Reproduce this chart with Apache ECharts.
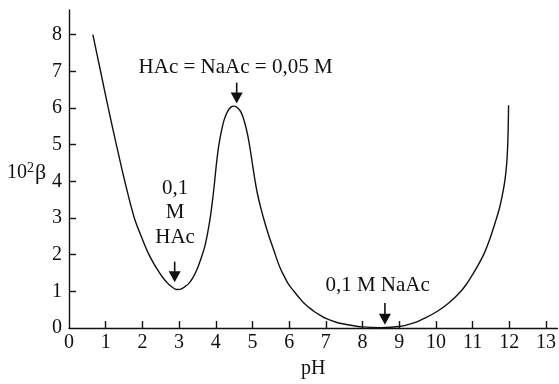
<!DOCTYPE html>
<html>
<head>
<meta charset="utf-8">
<script src="https://cdn.jsdelivr.net/npm/echarts@6/dist/echarts.min.js"></script>
<style>
  html, body { margin: 0; padding: 0; background: #fff; }
  #chart { width: 559px; height: 384px; }
</style>
</head>
<body>
<div id="chart"></div>
<script>
// Buffer capacity of the acetic acid / acetate system versus pH
const ph = [0.65, 0.86, 1.07, 1.29, 1.52, 1.78, 2.0, 2.17, 2.33, 2.45, 2.56, 2.68, 2.79, 2.88, 2.95, 3.05, 3.15, 3.26, 3.37, 3.49,
            3.6, 3.7, 3.78, 3.86, 3.92, 3.97, 4.01, 4.07, 4.14, 4.23, 4.33, 4.42, 4.5, 4.6, 4.69, 4.78, 4.87, 4.94,
            5.01, 5.07, 5.14, 5.23, 5.32, 5.45, 5.59, 5.68, 5.77, 5.87, 5.96, 6.05, 6.14, 6.27, 6.4, 6.54, 6.68, 6.84,
            7.0, 7.3, 7.59, 8.0, 8.5, 9.0, 9.4, 9.7, 10.03, 10.35, 10.67, 10.82, 10.95, 11.12, 11.3, 11.46, 11.62,
            11.74, 11.84, 11.89, 11.93, 11.955, 11.97, 11.98];
const beta = [8.0, 7.0, 6.0, 5.0, 4.0, 3.0, 2.42, 2.02, 1.72, 1.53, 1.37, 1.23, 1.13, 1.07, 1.05, 1.06, 1.12, 1.21, 1.36, 1.6,
              1.9, 2.22, 2.6, 3.08, 3.55, 4.0, 4.4, 4.9, 5.3, 5.68, 5.92, 6.03, 6.05, 6.0, 5.88, 5.63, 5.26, 4.86,
              4.4, 4.02, 3.64, 3.26, 2.93, 2.5, 2.1, 1.83, 1.6, 1.4, 1.23, 1.1, 0.99, 0.83, 0.68, 0.56, 0.45, 0.35,
              0.26, 0.15, 0.09, 0.03, 0.01, 0.04, 0.14, 0.27, 0.45, 0.68, 0.99, 1.18, 1.38, 1.66, 2.0, 2.4, 2.89,
              3.3, 3.78, 4.1, 4.5, 4.95, 5.45, 6.07];

// Axis tick labels
const xTicks = [0, 1, 2, 3, 4, 5, 6, 7, 8, 9, 10, 11, 12, 13];
const yTicks = [0, 1, 2, 3, 4, 5, 6, 7, 8];

// Annotations: text placed at (pH, 10²β)
const noteText = ['HAc = NaAc = 0,05 M', '0,1\nM\nHAc', '0,1 M NaAc'];
const notePh = [4.54, 2.89, 8.41];
const noteBeta = [7.09, 3.14, 1.17];

// Arrows: pH, start of shaft, arrow tip (10²β)
const arrowPh = [4.57, 2.88, 8.61];
const arrowFrom = [6.69, 1.81, 0.68];
const arrowTo = [6.12, 1.25, 0.09];

const FONT = '"Liberation Serif", "Times New Roman", serif';
const BLACK = '#111';

const chart = echarts.init(document.getElementById('chart'), null, { renderer: 'canvas' });

chart.setOption({
  animation: false,
  backgroundColor: '#fff',
  grid: { left: 69, right: 1, top: 10, bottom: 54 },
  xAxis: {
    type: 'value',
    min: 0,
    max: 13.31,
    name: 'pH',
    nameLocation: 'middle',
    nameGap: 31,
    nameTextStyle: { fontFamily: FONT, fontSize: 20, color: BLACK },
    splitLine: { show: false },
    axisLine: { show: true, onZero: false, lineStyle: { color: BLACK, width: 1.4 } },
    axisTick: {
      show: true, inside: true, length: 7,
      customValues: xTicks.filter(v => v > 0),
      lineStyle: { color: BLACK, width: 1.4 }
    },
    axisLabel: {
      customValues: xTicks,
      margin: 5,
      fontFamily: FONT, fontSize: 20, color: BLACK
    }
  },
  yAxis: {
    type: 'value',
    min: 0,
    max: 8.67,
    splitLine: { show: false },
    axisLine: { show: true, onZero: false, lineStyle: { color: BLACK, width: 1.4 } },
    axisTick: {
      show: true, inside: true, length: 7,
      customValues: yTicks.filter(v => v > 0),
      lineStyle: { color: BLACK, width: 1.4 }
    },
    axisLabel: {
      customValues: yTicks,
      margin: 7,
      fontFamily: FONT, fontSize: 20, color: BLACK
    }
  },
  graphic: [{
    type: 'text',
    left: 7,
    top: 161,
    style: {
      text: '{b|10}{s|2}{g|β}',
      rich: {
        b: { fontFamily: FONT, fontSize: 20, lineHeight: 24, fill: BLACK, color: BLACK },
        s: { fontFamily: FONT, fontSize: 14, lineHeight: 14, verticalAlign: 'top', fill: BLACK, color: BLACK },
        g: { fontFamily: FONT, fontSize: 22, lineHeight: 24, fill: BLACK, color: BLACK, padding: [0, 0, 0, 1] }
      }
    }
  }],
  series: [
    {
      type: 'line',
      data: ph.map((x, i) => [x, beta[i]]),
      smooth: 0.3,
      symbol: 'none',
      lineStyle: { color: BLACK, width: 1.4 },
      z: 3
    },
    {
      type: 'custom',
      data: arrowPh.map((x, i) => [x, arrowFrom[i]]),
      renderItem(params, api) {
        const i = params.dataIndex;
        const top = api.coord([arrowPh[i], arrowFrom[i]]);
        const tip = api.coord([arrowPh[i], arrowTo[i]]);
        return {
          type: 'group',
          children: [
            { type: 'line', shape: { x1: top[0], y1: top[1], x2: tip[0], y2: tip[1] - 6 },
              style: { stroke: BLACK, lineWidth: 1.6 } },
            { type: 'polygon',
              shape: { points: [[tip[0] - 6, tip[1] - 11], [tip[0] + 6, tip[1] - 11], [tip[0], tip[1]]] },
              style: { fill: BLACK } }
          ]
        };
      },
      z: 4
    },
    {
      type: 'custom',
      data: notePh.map((x, i) => [x, noteBeta[i]]),
      renderItem(params, api) {
        const i = params.dataIndex;
        const p = api.coord([notePh[i], noteBeta[i]]);
        return {
          type: 'text',
          x: p[0],
          y: p[1],
          style: {
            text: noteText[i],
            fontFamily: FONT,
            fontSize: 21,
            fill: BLACK,
            align: 'center',
            verticalAlign: 'middle',
            lineHeight: 24.5
          }
        };
      },
      z: 4
    }
  ]
});
</script>
</body>
</html>
